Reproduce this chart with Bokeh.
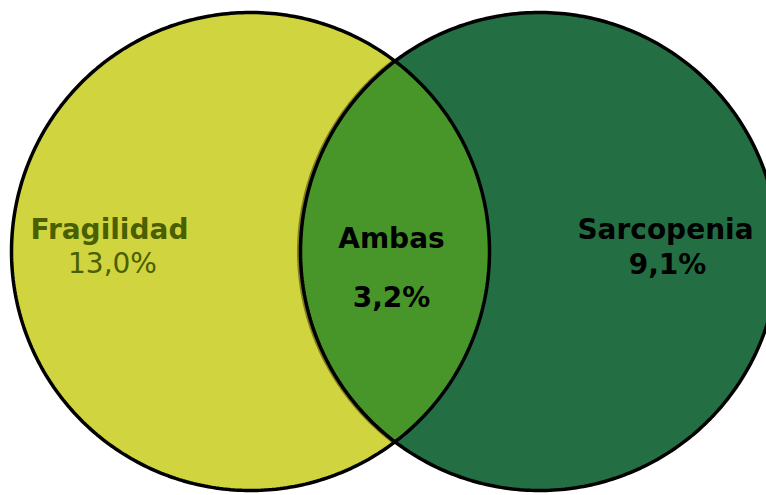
import numpy as np
from bokeh.plotting import figure
from bokeh.models import Range1d
from bokeh.core.properties import value
from bokeh.embed import file_html
from bokeh.resources import INLINE

# Data
categories = ["Fragilidad", "Sarcopenia", "Ambas"]
percent_labels = ["13,0%", "9,1%", "3,2%"]
percent_values = [13.0, 9.1, 3.2]

W, H = 766, 495
p = figure(width=W, height=H, output_backend="svg", toolbar_location=None,
           x_range=Range1d(0, W), y_range=Range1d(495 - H, 495),
           min_border=0)
p.axis.visible = False
p.grid.visible = False
p.outline_line_color = None
p.background_fill_color = "white"
p.border_fill_color = "white"

# layout of the two circles (screen-like coordinates)
r = 239.0
c1 = (250.0, 495 - 251.0)
c2 = (539.0, 495 - 251.0)

def arc(c, a0, a1, n=200):
    t = np.linspace(a0, a1, n)
    return c[0] + r * np.cos(t), c[1] + r * np.sin(t)

x1, y1 = arc(c1, 0, 2 * np.pi, 400)
x2, y2 = arc(c2, 0, 2 * np.pi, 400)

d = c2[0] - c1[0]
th = np.arccos((d / 2) / r)
lx1, ly1 = arc(c1, -th, th)
lx2, ly2 = arc(c2, np.pi - th, np.pi + th)
lens_x = np.concatenate([lx1, lx2])
lens_y = np.concatenate([ly1, ly2])

p.patch(x1, y1, fill_color="#D0D43F", line_color=None)
p.patch(x2, y2, fill_color="#236F43", line_color=None)
p.patch(lens_x, lens_y, fill_color="#48962A", line_color=None)
# subtle olive shadow on the lens left arc
p.line(lx2 - 2, ly2, line_color="#6B6A1A", line_width=3, line_alpha=0.8)
p.line(x1, y1, line_color="black", line_width=3.5)
p.line(x2, y2, line_color="black", line_width=3.5)

font = value("DejaVu Sans")
fs = "28px"
# Fragilidad
p.text(x=[109], y=[495 - 229], text=[categories[0]], text_font=font,
       text_font_size=fs, text_font_style="bold", text_color="#4A5F00",
       text_align="center", text_baseline="alphabetic")
p.text(x=[112], y=[495 - 263], text=[percent_labels[0]], text_font=font,
       text_font_size=fs, text_font_style="normal", text_color="#4A5F00",
       text_align="center", text_baseline="alphabetic")
# Ambas
p.text(x=[391], y=[495 - 238], text=[categories[2]], text_font=font,
       text_font_size=fs, text_font_style="bold", text_color="black",
       text_align="center", text_baseline="alphabetic")
p.text(x=[391], y=[495 - 297], text=[percent_labels[2]], text_font=font,
       text_font_size=fs, text_font_style="bold", text_color="black",
       text_align="center", text_baseline="alphabetic")
# Sarcopenia
p.text(x=[665], y=[495 - 229], text=[categories[1]], text_font=font,
       text_font_size=fs, text_font_style="bold", text_color="black",
       text_align="center", text_baseline="alphabetic")
p.text(x=[667], y=[495 - 264], text=[percent_labels[1]], text_font=font,
       text_font_size=fs, text_font_style="bold", text_color="black",
       text_align="center", text_baseline="alphabetic")

open("out.html", "w").write(file_html(p, INLINE))
